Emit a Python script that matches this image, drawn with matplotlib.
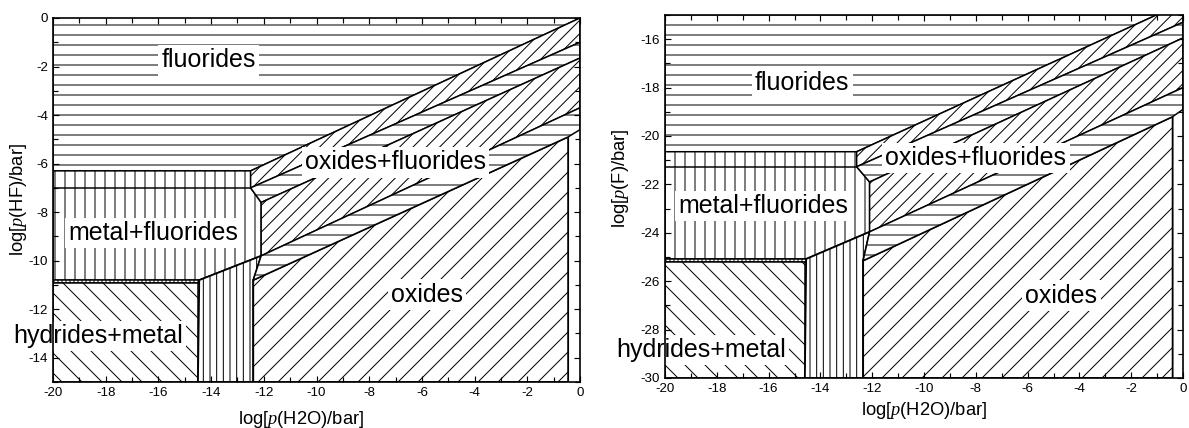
import matplotlib
matplotlib.use('Agg')
import matplotlib.pyplot as plt
from matplotlib.patches import Polygon
from matplotlib.ticker import MultipleLocator

plt.rcParams['font.family'] = ['Liberation Sans', 'DejaVu Sans']
plt.rcParams['mathtext.fontset'] = 'custom'
plt.rcParams['mathtext.it'] = 'Liberation Serif:italic'
plt.rcParams['mathtext.rm'] = 'Liberation Sans'
plt.rcParams['hatch.linewidth'] = 0.6
plt.rcParams['axes.unicode_minus'] = False

# ---------------- data: left panel, log p(HF) ----------------
L_xlim = [-20, 0]
L_ylim = [-15, 0]
L_ylabel = r'log[$\mathit{p}$(HF)/bar]'
L_mf_x = [-20, -12.5, -12.5, -12.1, -12.1, -14.45, -20]
L_mf_y = [-6.3, -6.3, -7.0, -7.6, -9.8, -10.8, -10.8]
L_strip_x = [-20, -14.45]
L_strip_y = [-10.8, -10.92]
L_hyd_x = [-20, -14.5, -14.5, -20]
L_hyd_y = [-15, -15, -10.92, -10.92]
L_metal_x = [-14.5, -12.4, -12.4, -12.1, -14.45]
L_metal_y = [-15, -15, -10.8, -9.8, -10.8]
L_oxide_x = [-12.4, -0.45, -0.45, -12.4]
L_oxide_y = [-15, -15, -4.9, -10.8]
L_fan_left_x = [-12.5, -12.5, -12.1, -12.1, -12.4]
L_fan_left_y = [-6.3, -7.0, -7.6, -9.8, -10.8]
L_fan_right_x = [0, 0, 0, 0, -0.45]
L_fan_right_y = [0.0, -1.0, -1.65, -3.7, -4.9]
L_edge_y = -4.6
L_labels = ['fluorides', 'oxides+fluorides', 'metal+fluorides', 'hydrides+metal', 'oxides']
L_label_x = [-14.1, -7.0, -16.2, -18.3, -5.8]
L_label_y = [-1.75, -5.95, -8.85, -13.1, -11.4]

# ---------------- data: right panel, log p(F) ----------------
R_xlim = [-20, 0]
R_ylim = [-30, -15]
R_ylabel = r'log[$\mathit{p}$(F)/bar]'
R_mf_x = [-20, -12.6, -12.6, -12.1, -12.1, -14.55, -20]
R_mf_y = [-20.65, -20.65, -21.27, -21.9, -23.96, -25.08, -25.08]
R_strip_x = [-20, -14.55]
R_strip_y = [-25.08, -25.2]
R_hyd_x = [-20, -14.6, -14.6, -20]
R_hyd_y = [-30, -30, -25.2, -25.2]
R_metal_x = [-14.6, -12.35, -12.35, -12.1, -14.55]
R_metal_y = [-30, -30, -25.15, -23.96, -25.08]
R_oxide_x = [-12.35, -0.4, -0.4, -12.35]
R_oxide_y = [-30, -30, -19.2, -25.15]
R_fan_left_x = [-12.6, -12.6, -12.1, -12.1, -12.35]
R_fan_left_y = [-20.65, -21.27, -21.9, -23.96, -25.15]
R_fan_right_x = [0, 0, 0, 0, -0.4]
R_fan_right_y = [-14.5, -15.3, -15.95, -18.0, -19.2]
R_edge_y = -18.9
R_labels = ['fluorides', 'oxides+fluorides', 'metal+fluorides', 'hydrides+metal', 'oxides']
R_label_x = [-14.7, -8.0, -16.2, -18.6, -4.7]
R_label_y = [-17.8, -20.9, -22.9, -28.85, -26.6]

xlabel = r'log[$\mathit{p}$(H2O)/bar]'
band_hatches = ['///', '--', '///', '--']

DPI = 120
fig = plt.figure(figsize=(1189 / DPI, 428 / DPI), dpi=DPI)
axL = fig.add_axes([53 / 1189, 1 - 382 / 428, 527 / 1189, 364 / 428])
axR = fig.add_axes([665 / 1189, 1 - 378 / 428, 518 / 1189, 363 / 428])


def poly(ax, xs, ys, hatch, lw=0.9, z=1):
    p = Polygon(list(zip(xs, ys)), closed=True, facecolor='white',
                edgecolor='black', hatch=hatch, lw=lw, zorder=z)
    ax.add_patch(p)


def draw(ax, xlim, ylim, mfx, mfy, sx, sy, hx, hy, mx, my, ox, oy,
         flx, fly, frx, fry, edge_y, labels, lx, ly, ylabel):
    top = ylim[1] + 2
    # fluorides
    poly(ax, [xlim[0], xlim[1], xlim[1], flx[0], xlim[0]],
         [top, top, fry[0], fly[0], fly[0]], '--')
    # metal + fluorides
    poly(ax, mfx, mfy, '||')
    ax.plot([mfx[0], mfx[2]], [mfy[2], mfy[2]], color='black', lw=0.9, zorder=2)
    # thin strip
    poly(ax, [sx[0], sx[1], sx[1], sx[0]], [sy[0], sy[0], sy[1], sy[1]], '|||||')
    # hydrides + metal
    poly(ax, hx, hy, '\\\\')
    # metal
    poly(ax, mx, my, '|||', lw=1.1)
    # oxides
    poly(ax, ox, oy, '//', lw=1.1)
    # oxides + fluorides sub-bands
    n = len(flx)
    for i in range(n - 1):
        xs = [flx[i], frx[i], frx[i + 1], flx[i + 1]]
        ys = [fly[i], fry[i], fry[i + 1], fly[i + 1]]
        if i == n - 2:
            xs = [flx[i], frx[i], xlim[1], frx[i + 1], flx[i + 1]]
            ys = [fly[i], fry[i], edge_y, fry[i + 1], fly[i + 1]]
        poly(ax, xs, ys, band_hatches[i])
    # labels
    for t, x, y in zip(labels, lx, ly):
        ax.text(x, y, t, fontsize=15, ha='center', va='center', zorder=5,
                bbox=dict(facecolor='white', edgecolor='none', pad=2.0))
    ax.set_xlim(xlim)
    ax.set_ylim(ylim)
    ax.xaxis.set_major_locator(MultipleLocator(2))
    ax.xaxis.set_minor_locator(MultipleLocator(1))
    ax.yaxis.set_major_locator(MultipleLocator(2))
    ax.yaxis.set_minor_locator(MultipleLocator(1))
    ax.tick_params(which='both', direction='in', top=True, right=True,
                   labelsize=8, width=0.7, pad=3)
    ax.tick_params(which='major', length=3.5)
    ax.tick_params(which='minor', length=3)
    for s in ax.spines.values():
        s.set_linewidth(1.0)
        s.set_zorder(6)
    ax.set_ylabel(ylabel, fontsize=11)
    ax.set_xlabel(xlabel, fontsize=11)


draw(axL, L_xlim, L_ylim, L_mf_x, L_mf_y, L_strip_x, L_strip_y, L_hyd_x, L_hyd_y,
     L_metal_x, L_metal_y, L_oxide_x, L_oxide_y, L_fan_left_x, L_fan_left_y,
     L_fan_right_x, L_fan_right_y, L_edge_y, L_labels, L_label_x, L_label_y, L_ylabel)
draw(axR, R_xlim, R_ylim, R_mf_x, R_mf_y, R_strip_x, R_strip_y, R_hyd_x, R_hyd_y,
     R_metal_x, R_metal_y, R_oxide_x, R_oxide_y, R_fan_left_x, R_fan_left_y,
     R_fan_right_x, R_fan_right_y, R_edge_y, R_labels, R_label_x, R_label_y, R_ylabel)

axL.xaxis.set_label_coords(0.47, -0.075)
axL.yaxis.set_label_coords(-0.045, 0.5)
axR.xaxis.set_label_coords(0.5, -0.06)
axR.yaxis.set_label_coords(-0.065, 0.55)

fig.savefig('out.png', dpi=DPI)
